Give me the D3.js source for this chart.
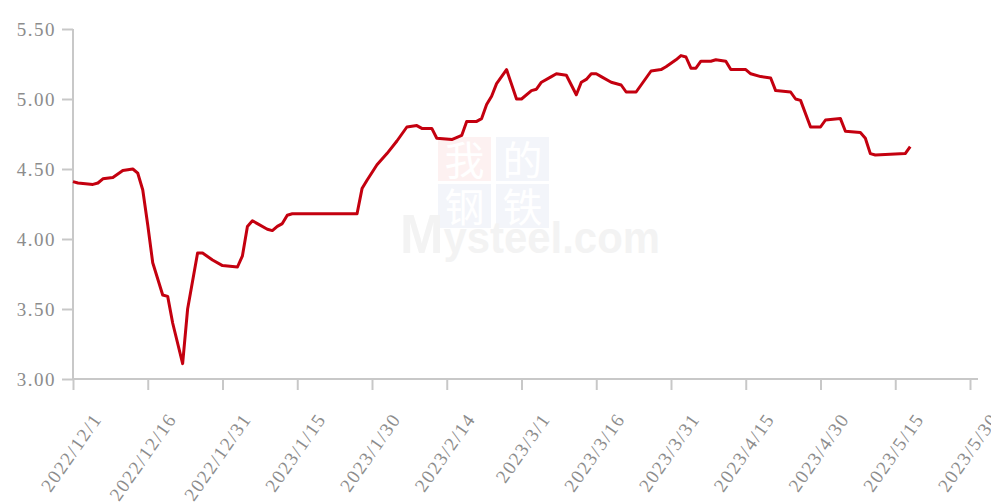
<!DOCTYPE html>
<html>
<head>
<meta charset="utf-8">
<script src="https://cdn.jsdelivr.net/npm/d3@7"></script>
<style>
  html, body { margin: 0; padding: 0; background: #fff; }
  svg { display: block; }
  .axis text { font-family: "Liberation Serif", "Times New Roman", serif; font-size: 19px; letter-spacing: 1.5px; fill: #8c8c8c; }
  .axis path, .axis line { stroke: #c8c8c8; stroke-width: 2; }
</style>
</head>
<body>
<svg id="chart" width="991" height="504"></svg>
<script>
// prijsreeks
const dates = [
  "2022-12-01","2022-12-02","2022-12-05","2022-12-06","2022-12-07","2022-12-09","2022-12-11","2022-12-13",
  "2022-12-14","2022-12-15","2022-12-16","2022-12-17","2022-12-19","2022-12-20","2022-12-21","2022-12-23",
  "2022-12-24","2022-12-26","2022-12-27","2022-12-29","2022-12-31","2023-01-03","2023-01-04","2023-01-05",
  "2023-01-06","2023-01-07","2023-01-09","2023-01-10","2023-01-11","2023-01-12","2023-01-13","2023-01-14",
  "2023-01-27","2023-01-28","2023-01-29","2023-01-31","2023-02-02","2023-02-04","2023-02-06","2023-02-08",
  "2023-02-09","2023-02-11","2023-02-12","2023-02-15","2023-02-17","2023-02-18","2023-02-20","2023-02-21",
  "2023-02-22","2023-02-23","2023-02-24","2023-02-26","2023-02-28","2023-03-01","2023-03-03","2023-03-04",
  "2023-03-05","2023-03-07","2023-03-08","2023-03-10","2023-03-12","2023-03-13","2023-03-14","2023-03-15",
  "2023-03-16","2023-03-17","2023-03-19","2023-03-21","2023-03-22","2023-03-24","2023-03-26","2023-03-27",
  "2023-03-29","2023-03-30","2023-04-01","2023-04-02","2023-04-03","2023-04-04","2023-04-05","2023-04-06",
  "2023-04-08","2023-04-09","2023-04-11","2023-04-12","2023-04-15","2023-04-16","2023-04-18","2023-04-20",
  "2023-04-21","2023-04-24","2023-04-25","2023-04-26","2023-04-28","2023-04-30","2023-05-01","2023-05-04",
  "2023-05-05","2023-05-08","2023-05-09","2023-05-10","2023-05-11","2023-05-17","2023-05-18"
];
const prices = [
  4.41,4.40,4.39,4.40,4.43,4.44,4.49,4.50,
  4.47,4.35,4.10,3.83,3.60,3.59,3.40,3.11,
  3.50,3.90,3.90,3.85,3.81,3.80,3.88,4.09,
  4.13,4.11,4.07,4.06,4.09,4.11,4.17,4.18,
  4.18,4.36,4.42,4.53,4.61,4.70,4.80,4.81,
  4.79,4.79,4.72,4.71,4.74,4.84,4.84,4.86,
  4.96,5.02,5.11,5.21,5.00,5.00,5.06,5.07,
  5.12,5.16,5.18,5.17,5.03,5.12,5.14,5.18,
  5.18,5.16,5.12,5.10,5.05,5.05,5.15,5.20,
  5.21,5.23,5.28,5.31,5.30,5.22,5.22,5.27,
  5.27,5.28,5.27,5.21,5.21,5.18,5.16,5.15,
  5.06,5.05,5.00,4.99,4.80,4.80,4.85,4.86,
  4.77,4.76,4.72,4.61,4.60,4.61,4.66
];
const xTickLabels = ["2022/12/1","2022/12/16","2022/12/31","2023/1/15","2023/1/30","2023/2/14","2023/3/1",
  "2023/3/16","2023/3/31","2023/4/15","2023/4/30","2023/5/15","2023/5/30"];
const yTicks = [3.0, 3.5, 4.0, 4.5, 5.0, 5.5];

const parse = d3.timeParse("%Y-%m-%d");
const tickParse = d3.timeParse("%Y/%m/%d");
const data = dates.map((d, i) => ({ date: parse(d), value: prices[i] }));
const tickDates = xTickLabels.map(t => tickParse(t));

const svg = d3.select("#chart");

const x = d3.scaleTime()
  .domain([tickDates[0], tickDates[tickDates.length - 1]])
  .range([73, 970]);
const y = d3.scaleLinear()
  .domain([3, 5.5])
  .range([379, 29]);

// watermerk (我的钢铁 Mysteel.com)
const wm = svg.append("g").attr("class", "watermark");
const boxes = [
  { t: "我", c: "#fdf1f1", dx: 0, dy: 0 },
  { t: "的", c: "#f3f5fa", dx: 1, dy: 0 },
  { t: "钢", c: "#f3f5fa", dx: 0, dy: 1 },
  { t: "铁", c: "#f3f5fa", dx: 1, dy: 1 }
];
boxes.forEach(b => {
  const bx = 438 + b.dx * 58, by = 137 + b.dy * 47;
  wm.append("rect").attr("x", bx).attr("y", by).attr("width", 53).attr("height", 44).attr("fill", b.c);
  wm.append("text").attr("x", bx + 26.5).attr("y", by + 38)
    .attr("text-anchor", "middle")
    .style("font-family", "'Noto Sans CJK SC', sans-serif")
    .style("font-size", "40px")
    .attr("fill", "#ffffff")
    .text(b.t);
});
wm.append("text").attr("x", 400).attr("y", 253)
  .style("font-family", "'Liberation Sans', Arial, sans-serif")
  .style("font-weight", "bold")
  .attr("fill", "#f3f3f3")
  .attr("textLength", 260).attr("lengthAdjust", "spacingAndGlyphs")
  .html('<tspan style="font-size:56px">M</tspan><tspan style="font-size:45px">ysteel.com</tspan>');

// x-as
const xAxis = svg.append("g")
  .attr("class", "axis x")
  .attr("transform", `translate(0,${y(3)})`)
  .call(d3.axisBottom(x).tickValues(tickDates).tickSize(11).tickSizeOuter(0).tickFormat((d, i) => xTickLabels[i]));
xAxis.select(".domain").attr("d", `M${x.range()[0]},0H${x.range()[1] + 8}`);
xAxis.selectAll(".tick text")
  .attr("text-anchor", "end")
  .attr("dy", 0)
  .attr("y", 0)
  .attr("transform", "translate(29,40) rotate(-55)");

// y-as
svg.append("g")
  .attr("class", "axis y")
  .attr("transform", `translate(${x.range()[0]},0)`)
  .call(d3.axisLeft(y).tickValues(yTicks).tickSize(11).tickPadding(6).tickFormat(d3.format(".2f")))
  .call(g => g.select(".domain").attr("d", `M0,${y(5.5)}V${y(3)}`));

// de lijn
const line = d3.line()
  .x(d => x(d.date))
  .y(d => y(d.value));

svg.append("path")
  .datum(data)
  .attr("fill", "none")
  .attr("stroke", "#c4000f")
  .attr("stroke-width", 3)
  .attr("stroke-linejoin", "round")
  .attr("d", line);
</script>
</body>
</html>
